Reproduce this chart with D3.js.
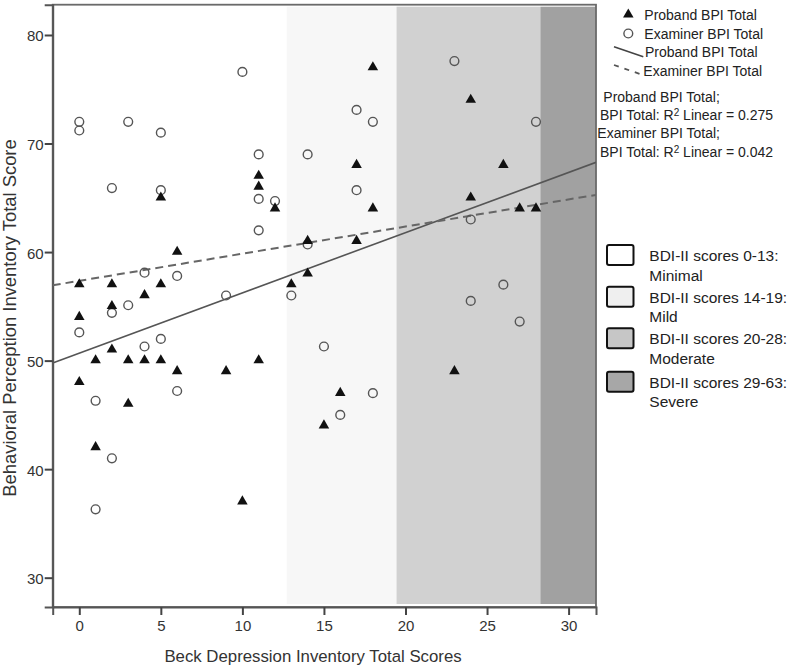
<!DOCTYPE html>
<html>
<head>
<meta charset="utf-8">
<script src="https://cdn.jsdelivr.net/npm/d3@7"></script>
<style>
  html, body { margin: 0; padding: 0; background: #fff; }
  svg { display: block; font-family: "Liberation Sans", Arial, sans-serif; }
</style>
</head>
<body>
<svg id="chart" width="800" height="669"></svg>
<script>
// ---- Data ----
const probandBDI = [0,0,0, 1,1, 2,2,2, 3,3, 4,4, 5,5,5, 6,6, 9, 10, 11,11,11, 12, 13, 14,14, 15, 16, 17,17, 18,18, 23, 24,24, 26, 27, 28];
const probandBPI = [57,54,48, 50,42, 57,55,51, 50,46, 56,50, 65,57,50, 60,49, 49, 37, 67,66,50, 64, 57, 61,58, 44, 47, 68,61, 77,64, 49, 74,65, 68, 64, 64];
const examinerBDI = [0,0,0, 1,1, 2,2,2, 3,3, 4,4, 5,5,5, 6,6, 9, 10, 11,11,11, 12, 13, 14,14, 15, 16, 17,17, 18,18, 23, 24,24, 26, 27, 28];
const examinerBPI = [72,71.2,52.6, 46.3,36.3, 65.9,54.4,41, 72,55.1, 58.1,51.3, 71,65.7,52, 57.8,47.2, 56, 76.6, 69,64.9,62, 64.7, 56, 69,60.7, 51.3, 45, 73.1,65.7, 72,47, 77.6, 63,55.5, 57, 53.6, 72];

// Linear fit lines (intercept, slope) as drawn in the reference
const fitNames = ["Proband BPI Total", "Examiner BPI Total"];
const fitIntercepts = [50.69, 57.35];
const fitSlopes = [0.555, 0.25];
const fitR2 = ["0.275", "0.042"];

// Severity bands (BDI-II)
const bandStarts = [-1.63, 12.72, 19.45, 28.27];
const bandEnds = [12.72, 19.45, 28.27, 31.68];
const bandColors = ["#ffffff", "#f7f7f7", "#d1d1d1", "#a1a1a1"];
const bandLegendColors = ["#ffffff", "#efefef", "#c6c6c6", "#a7a7a7"];
const bandLabels1 = ["BDI-II scores 0-13:", "BDI-II scores 14-19:", "BDI-II scores 20-28:", "BDI-II scores 29-63:"];
const bandLabels2 = ["Minimal", "Mild", "Moderate", "Severe"];

const xTicks = [0, 5, 10, 15, 20, 25, 30];
const yTicks = [30, 40, 50, 60, 70, 80];
const xTitle = "Beck Depression Inventory Total Scores";
const yTitle = "Behavioral Perception Inventory Total Score";

// ---- Layout ----
const L = 52.7, R = 596, T = 4.7, B = 607;
const x = d3.scaleLinear().domain([-1.63, 31.68]).range([L, R]);
const y = d3.scaleLinear().domain([27.3, 82.79]).range([B, T]);

const svg = d3.select("#chart");

// bands
svg.append("g").selectAll("rect").data(bandStarts).join("rect")
  .attr("x", (d) => x(d))
  .attr("y", T + 2)
  .attr("width", (d, i) => x(bandEnds[i]) - x(d))
  .attr("height", B - T - 5)
  .attr("fill", (d, i) => bandColors[i]);

// frame
svg.append("rect").attr("x", L).attr("y", T).attr("width", R - L).attr("height", B - T)
  .attr("fill", "none").attr("stroke", "#6a6a6a").attr("stroke-width", 1.8);

// axes
const xAxis = d3.axisBottom(x).tickValues(xTicks).tickSize(8).tickPadding(3).tickFormat(d3.format("d"));
const yAxis = d3.axisLeft(y).tickValues(yTicks).tickSize(8).tickPadding(1).tickFormat(d3.format("d"));

const gx = svg.append("g").attr("transform", `translate(0,${B})`).call(xAxis);
const gy = svg.append("g").attr("transform", `translate(${L},0)`).call(yAxis);
[gx, gy].forEach(g => {
  g.select(".domain").attr("stroke", "#555").attr("stroke-width", 2);
  g.selectAll(".tick line").attr("stroke", "#444").attr("stroke-width", 2);
  g.selectAll(".tick text").attr("fill", "#333").style("font-size", "15px")
    .style("font-family", "'Liberation Sans', Arial, sans-serif");
});
gy.selectAll(".tick text").attr("dy", "0.4em");
gx.selectAll(".tick text").attr("dy", "0.85em");

// titles
svg.append("text").attr("x", 313).attr("y", 662).attr("text-anchor", "middle")
  .attr("fill", "#333").style("font-size", "16.8px").text(xTitle);
svg.append("text").attr("transform", "translate(16,318) rotate(-90)").attr("text-anchor", "middle")
  .attr("fill", "#333").style("font-size", "18.4px").text(yTitle);

// clip for fit lines
svg.append("clipPath").attr("id", "plotclip").append("rect")
  .attr("x", L).attr("y", T).attr("width", R - L).attr("height", B - T);

const lineStyles = [
  { stroke: "#555", dash: null, width: 1.6 },
  { stroke: "#666", dash: "8,5", width: 2 }
];
const line = d3.line().x(d => x(d[0])).y(d => y(d[1]));
const xd = x.domain();
svg.append("g").attr("clip-path", "url(#plotclip)").selectAll("path").data(fitIntercepts).join("path")
  .attr("d", (a, i) => line([[xd[0], a + fitSlopes[i] * xd[0]], [xd[1], a + fitSlopes[i] * xd[1]]]))
  .attr("fill", "none")
  .attr("stroke", (d, i) => lineStyles[i].stroke)
  .attr("stroke-width", (d, i) => lineStyles[i].width)
  .attr("stroke-dasharray", (d, i) => lineStyles[i].dash);

// points
const tri = d3.symbol().type(d3.symbolTriangle).size(48);
svg.append("g").selectAll("circle").data(examinerBPI).join("circle")
  .attr("cx", (d, i) => x(examinerBDI[i])).attr("cy", d => y(d)).attr("r", 4.4)
  .attr("fill", "none").attr("stroke", "#555").attr("stroke-width", 1.4);
svg.append("g").selectAll("path").data(probandBPI).join("path")
  .attr("d", tri)
  .attr("transform", (d, i) => `translate(${x(probandBDI[i])},${y(d) - 0.3})`)
  .attr("fill", "#111");

// ---- Legend 1 ----
const lg = svg.append("g").style("font-size", "14px").attr("fill", "#222");
lg.append("path").attr("d", tri).attr("transform", "translate(628.3,14.5)").attr("fill", "#111");
lg.append("circle").attr("cx", 628.3).attr("cy", 33.5).attr("r", 4.4).attr("fill", "none").attr("stroke", "#555").attr("stroke-width", 1.4);
lg.append("line").attr("x1", 614).attr("y1", 46.7).attr("x2", 643.3).attr("y2", 56.7).attr("stroke", "#444").attr("stroke-width", 1.6);
lg.append("line").attr("x1", 614).attr("y1", 65).attr("x2", 640).attr("y2", 74).attr("stroke", "#555").attr("stroke-width", 1.8).attr("stroke-dasharray", "5,6");
const lgLabels = [fitNames[0], fitNames[1], fitNames[0], fitNames[1]];
const lgY = [15, 34, 52, 71];
const lgX = [644.3, 644.3, 645, 643.3];
lg.selectAll("text.item").data(lgLabels).join("text").attr("class", "item")
  .attr("x", (d, i) => lgX[i]).attr("y", (d, i) => lgY[i] + 5).text(d => d);

const stY = [[97.2, 115.2], [133, 152.2]];
const stX = [[603.3, 600], [597.3, 600]];
fitNames.forEach((n, i) => {
  lg.append("text").attr("x", stX[i][0]).attr("y", stY[i][0] + 5).text(n + ";");
  const t = lg.append("text").attr("x", stX[i][1]).attr("y", stY[i][1] + 5);
  t.append("tspan").text("BPI Total: R");
  t.append("tspan").attr("dy", -4.5).style("font-size", "10px").text("2");
  t.append("tspan").attr("dy", 4.5).text(" Linear = " + fitR2[i]);
});

// ---- Legend 2 (bands) ----
const boxY = [245, 286.7, 328.3, 371.7];
const lg2 = svg.append("g").style("font-size", "15.5px").attr("fill", "#222");
lg2.selectAll("rect").data(bandLegendColors).join("rect")
  .attr("x", 607).attr("y", (d, i) => boxY[i]).attr("width", 26.5).attr("height", 20).attr("rx", 2)
  .attr("fill", d => d).attr("stroke", "#111").attr("stroke-width", 2);
lg2.selectAll("text.l1").data(bandLabels1).join("text").attr("class", "l1")
  .attr("x", 649.3).attr("y", (d, i) => boxY[i] + 16).text(d => d);
lg2.selectAll("text.l2").data(bandLabels2).join("text").attr("class", "l2")
  .attr("x", 649.3).attr("y", (d, i) => boxY[i] + 35.5).text(d => d);
</script>
</body>
</html>
